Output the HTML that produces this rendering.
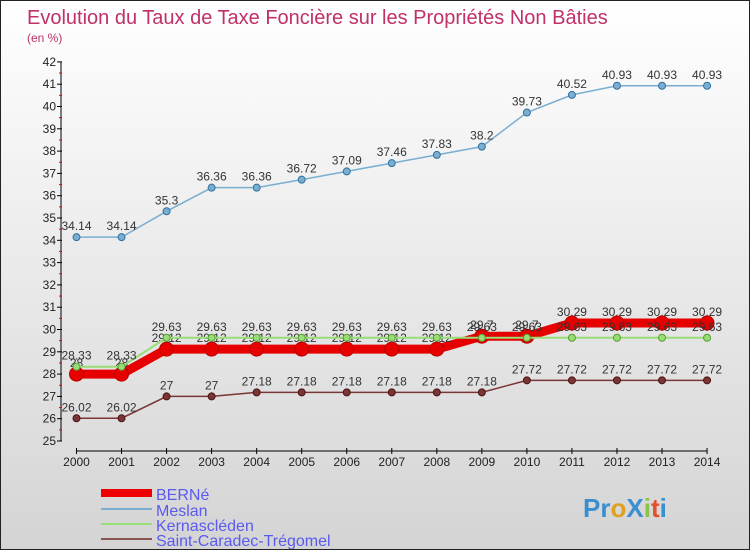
<!DOCTYPE html>
<html><head><meta charset="utf-8"><style>
body{margin:0}
#c{width:750px;height:550px;position:relative;box-sizing:border-box;border:1px solid #222;background:linear-gradient(#fff,#d4d4d4);font-family:"Liberation Sans",sans-serif;overflow:hidden}
svg text{font-family:"Liberation Sans",sans-serif}
</style></head><body>
<div id="c">
<svg width="750" height="550" id="s">
<text x="26" y="23" font-size="20" fill="#c0306a">Evolution du Taux de Taxe Foncière sur les Propriétés Non Bâties</text>
<text x="26" y="41" font-size="12" fill="#c0306a">(en %)</text>
<g id="axes"></g><g id="series"></g>
<g>
<line x1="100" y1="492" x2="151" y2="492" stroke="#e00" stroke-width="8"/>
<text x="155" y="499" font-size="16" fill="#5a5aee">BERNé</text>
<line x1="100" y1="508" x2="151" y2="508" stroke="#7aaed0" stroke-width="2"/>
<text x="155" y="515" font-size="16" fill="#5a5aee">Meslan</text>
<line x1="100" y1="523" x2="151" y2="523" stroke="#99dd77" stroke-width="2"/>
<text x="155" y="530" font-size="16" fill="#5a5aee">Kernascléden</text>
<line x1="100" y1="538" x2="151" y2="538" stroke="#885555" stroke-width="2"/>
<text x="155" y="545" font-size="16" fill="#5a5aee">Saint-Caradec-Trégomel</text>
</g>
<text x="582" y="516" font-size="26" font-weight="bold" fill="#3a8fd0">Pr<tspan fill="#e0a020">o</tspan><tspan fill="#3a8fd0">X</tspan><tspan fill="#8bc34a">i</tspan><tspan fill="#e05030">t</tspan><tspan fill="#3a8fd0">i</tspan></text>
</svg></div>
<script>
const years=[2000,2001,2002,2003,2004,2005,2006,2007,2008,2009,2010,2011,2012,2013,2014];
const berne=[28,28,29.12,29.12,29.12,29.12,29.12,29.12,29.12,29.7,29.7,30.29,30.29,30.29,30.29];
const meslan=[34.14,34.14,35.3,36.36,36.36,36.72,37.09,37.46,37.83,38.2,39.73,40.52,40.93,40.93,40.93];
const kern=[28.33,28.33,29.63,29.63,29.63,29.63,29.63,29.63,29.63,29.63,29.63,29.63,29.63,29.63,29.63];
const stc=[26.02,26.02,27,27,27.18,27.18,27.18,27.18,27.18,27.18,27.72,27.72,27.72,27.72,27.72];
const yTicks=[25,26,27,28,29,30,31,32,33,34,35,36,37,38,39,40,41,42];
const NS="http://www.w3.org/2000/svg";
const X=i=>75.5+i*45.04, Y=v=>440-(v-25)*22.3;
function mk(t,a,p){const e=document.createElementNS(NS,t);for(const k in a)e.setAttribute(k,a[k]);p.appendChild(e);return e;}
const ax=document.getElementById('axes'), sg=document.getElementById('series');
let l=mk('line',{x1:60,y1:Y(42),x2:60,y2:Y(25),stroke:'#000'},ax);


yTicks.forEach(v=>{
 let t=mk('line',{x1:56,y1:Y(v),x2:61,y2:Y(v),stroke:'#000'},ax);
 
 
 if(v<42){let m=mk('line',{x1:58,y1:Y(v+0.5),x2:61,y2:Y(v+0.5),stroke:'#e00'},ax);
 
 }
 let tx=mk('text',{x:55,y:Y(v)+4,'font-size':12,fill:'#222','text-anchor':'end'},ax);tx.textContent=v;
 
 
});
l=mk('line',{x1:X(0),y1:450,x2:X(14),y2:450,stroke:'#000'},ax);


years.forEach((y,i)=>{
 let t=mk('line',{x1:X(i),y1:447,x2:X(i),y2:453,stroke:'#000'},ax);
 
 
 let tx=mk('text',{x:X(i),y:465,'font-size':12,fill:'#222','text-anchor':'middle'},ax);tx.textContent=y;
 
 
});
function series(d,col,w,r,name,dark){
 const g=mk('g',{},sg);
 
 
 let p=mk('polyline',{points:d.map((v,i)=>X(i)+','+Y(v)).join(' '),fill:'none',stroke:col,'stroke-width':w},g);
 
 
 d.forEach((v,i)=>{
  let c=mk('circle',{cx:X(i),cy:Y(v),r:r,fill:col,stroke:dark,'stroke-width':1},g);
  
  
  let t=mk('text',{x:X(i),y:Y(v)-7,'font-size':12,fill:'#333','text-anchor':'middle'},g);t.textContent=v;
  
  
 });
}
series(stc,'#7a3535',1.5,3.5,'saint-caradec','#4a1515');
series(berne,'#e60000',9,7,'berne','#b00');
series(kern,'#99dd77',2,3.5,'kernascleden','#55a030');
series(meslan,'#7aaed0',1.5,3.5,'meslan','#3070a0');
</script>
</body></html>
